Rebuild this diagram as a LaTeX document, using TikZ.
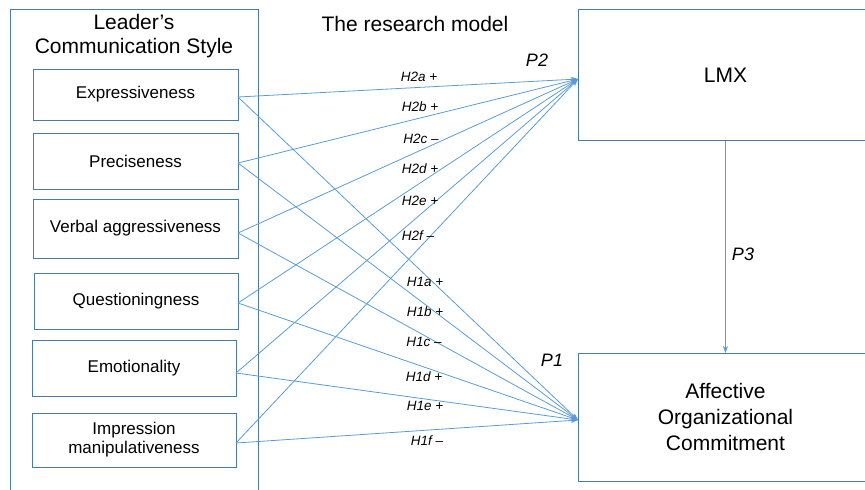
\documentclass[tikz,border=0pt]{standalone}
\usepackage{fontspec}
\setmainfont{Liberation Sans}
\usetikzlibrary{arrows.meta,calc}
\definecolor{boxc}{HTML}{4A7AAA}
\definecolor{arrc}{HTML}{5B9BD5}
\begin{document}
\begin{tikzpicture}[x=1pt,y=-1pt,
  frame/.style={draw=boxc,line width=0.9pt},
  item/.style={frame,rectangle,inner sep=0pt,align=center,font=\fontsize{17}{19}\selectfont},
  bigbox/.style={frame,rectangle,inner sep=0pt,align=center,font=\fontsize{21}{26}\selectfont},
  link/.style={draw=arrc,line width=0.8pt,-{Stealth[length=7pt,width=5pt]}},
  hyp/.style={font=\fontsize{13.5}{15}\selectfont\itshape,inner sep=0pt},
  pl/.style={font=\fontsize{18}{20}\selectfont\itshape,inner sep=0pt}]
\useasboundingbox (0,0) rectangle (865,490);
\clip (0,0) rectangle (865,490);
% outer frame
\node[frame,rectangle,minimum width=248pt,minimum height=500pt,anchor=north west,inner sep=0pt] (outer) at (10,9) {};
\node[font=\fontsize{21}{24}\selectfont,align=center,inner sep=0pt] (title) at (134,36) {Leader’s\\Communication Style};
\node[font=\fontsize{21}{24}\selectfont,inner sep=0pt] (model) at (415,24) {The research model};
% items
\node[item,minimum width=205pt,minimum height=51pt] (expr) at (135.5,94.5) {Expressiveness};
\node[item,minimum width=205pt,minimum height=56pt] (prec) at (135.5,161) {Preciseness};
\node[item,minimum width=205pt,minimum height=59pt] (verb) at (135.5,228.5) {Verbal aggressiveness};
\node[item,minimum width=204pt,minimum height=56pt] (ques) at (136,301) {Questioningness};
\node[item,minimum width=204pt,minimum height=56pt] (emot) at (134,368) {Emotionality};
\node[item,minimum width=204pt,minimum height=54pt] (impr) at (134,440) {Impression\\manipulativeness};
% right boxes
\node[bigbox,minimum width=294pt,minimum height=131pt,anchor=north west] (lmx) at (578,9) {LMX};
\node[bigbox,minimum width=294pt,minimum height=128pt,anchor=north west] (aoc) at (578,353) {Affective\\Organizational\\Commitment};
\coordinate (lmxin) at (578,79);
\coordinate (aocin) at (578,420);
\coordinate (eE) at (238,97);
\coordinate (pE) at (238,163);
\coordinate (vE) at (238,233);
\coordinate (qE) at (238,303);
\coordinate (mE) at (236,373);
\coordinate (iE) at (236,443);
% connectors
\foreach \s in {eE,pE,vE,qE,mE,iE}{
  \draw[link] (\s) -- (lmxin);
  \draw[link] (\s) -- (aocin);
}
\draw[link] (lmx.south) -- (aoc.north);
% labels
\node[hyp] (h2a) at (419,77) {H2a +};
\node[hyp] (h2b) at (420,107) {H2b +};
\node[hyp] (h2c) at (421,139) {H2c –};
\node[hyp] (h2d) at (420,169) {H2d +};
\node[hyp] (h2e) at (420,201) {H2e +};
\node[hyp] (h2f) at (418,236) {H2f –};
\node[hyp] (h1a) at (425,282) {H1a +};
\node[hyp] (h1b) at (425,312) {H1b +};
\node[hyp] (h1c) at (424,342) {H1c –};
\node[hyp] (h1d) at (424,377) {H1d +};
\node[hyp] (h1e) at (425,406) {H1e +};
\node[hyp] (h1f) at (427,441) {H1f –};
\node[pl] (p2) at (537,60) {P2};
\node[pl] (p1) at (552,360) {P1};
\node[pl] (p3) at (743,254) {P3};
\end{tikzpicture}
\end{document}
